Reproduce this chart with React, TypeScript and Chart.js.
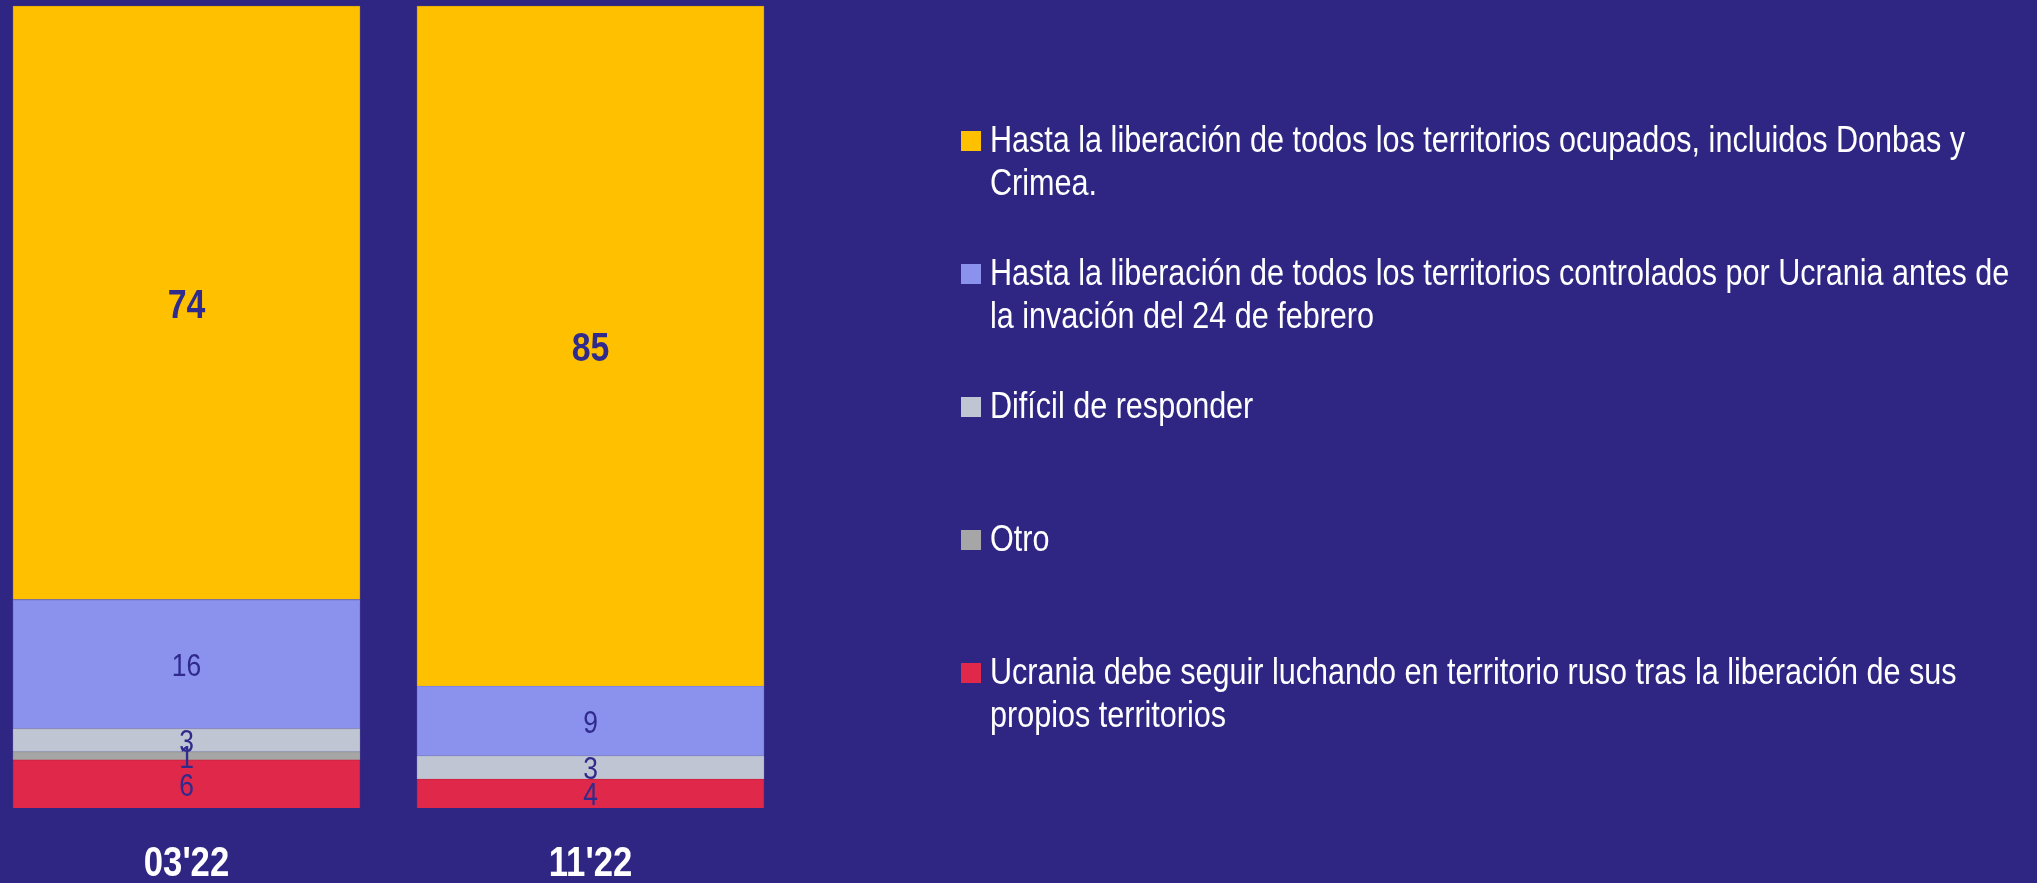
import React, { useEffect, useRef } from "react";
import { Chart, registerables } from "chart.js";

Chart.register(...registerables);

const categories = ["03'22", "11'22"];

// stacked bottom -> top
const seriesNames: string[][] = [
  ["Ucrania debe seguir luchando en territorio ruso tras la liberación de sus", "propios territorios"],
  ["Otro"],
  ["Difícil de responder"],
  ["Hasta la liberación de todos los territorios controlados por Ucrania antes de", "la invación del 24 de febrero"],
  ["Hasta la liberación de todos los territorios ocupados, incluidos Donbas y", "Crimea."],
];
const redValues = [6.0, 3.6];
const otroValues = [1.0, 0];
const dificilValues = [2.9, 2.9];
const blueValues = [16.1, 8.7];
const yellowValues = [74.0, 84.8];

const seriesColors = ["#E0294A", "#A6A6A6", "#BFC5D2", "#8A92EE", "#FFC000"];
const seriesBorders = ["#C8223F", "#9A9A9A", "#AEB4C6", "#7A82DD", "#E0A800"];

const BG = "#2F2683";
const LABEL_COLOR = "#2F2A8C";
const FONT = '"Liberation Sans", Arial, sans-serif';
const NARROW = 0.826;

const W = 2037;
const H = 883;

function narrowText(ctx: CanvasRenderingContext2D, text: string, x: number, y: number) {
  ctx.save();
  ctx.translate(x, y);
  ctx.scale(NARROW, 1);
  ctx.fillText(text, 0, 0);
  ctx.restore();
}

export default function App() {
  const ref = useRef<HTMLCanvasElement | null>(null);

  useEffect(() => {
    const canvas = ref.current;
    if (!canvas) return;
    const values = [redValues, otroValues, dificilValues, blueValues, yellowValues];

    const labelsPlugin = {
      id: "segLabels",
      afterDatasetsDraw(chart: any) {
        const ctx = chart.ctx;
        ctx.save();
        ctx.textAlign = "center";
        ctx.textBaseline = "alphabetic";
        ctx.fillStyle = LABEL_COLOR;
        chart.data.datasets.forEach((ds: any, di: number) => {
          const meta = chart.getDatasetMeta(di);
          const isTop = di === chart.data.datasets.length - 1;
          const size = isTop ? 41 : 32;
          ctx.font = `${isTop ? "bold " : ""}${size}px ${FONT}`;
          meta.data.forEach((bar: any, i: number) => {
            const v = ds.data[i];
            if (!v) return;
            const cy = (bar.y + bar.base) / 2;
            narrowText(ctx, String(Math.round(v)), bar.x, cy + size * 0.37);
          });
        });
        ctx.restore();
      },
      afterDraw(chart: any) {
        const ctx = chart.ctx;
        ctx.save();
        // category labels
        const xs = chart.scales.x;
        ctx.fillStyle = "#FFFFFF";
        ctx.textAlign = "center";
        ctx.textBaseline = "alphabetic";
        ctx.font = `bold 42px ${FONT}`;
        chart.data.labels.forEach((lab: string, i: number) => {
          narrowText(ctx, lab, xs.getPixelForTick(i), 876);
        });
        // legend (top of stack first)
        ctx.textAlign = "left";
        ctx.font = `37px ${FONT}`;
        const n = chart.data.datasets.length;
        for (let k = 0; k < n; k++) {
          const ds = chart.data.datasets[n - 1 - k];
          const base = 152 + k * 133;
          ctx.fillStyle = ds.backgroundColor;
          ctx.fillRect(961, base - 21, 20, 20);
          ctx.fillStyle = "#FFFFFF";
          (ds.labelLines as string[]).forEach((line: string, li: number) => {
            narrowText(ctx, line, 990, base + li * 43);
          });
        }
        ctx.restore();
      },
    };

    const chart = new Chart(canvas, {
      type: "bar",
      data: {
        labels: categories,
        datasets: values.map((vals, i) => ({
          label: seriesNames[i].join(" "),
          labelLines: seriesNames[i],
          data: vals,
          backgroundColor: seriesColors[i],
          borderColor: seriesBorders[i],
          borderWidth: 1,
          barThickness: 347,
          clip: false,
        })) as any,
      },
      options: {
        responsive: false,
        animation: false,
        layout: { padding: { left: 186.5, right: W - 590.5, top: 6, bottom: H - 808 } },
        plugins: { legend: { display: false }, tooltip: { enabled: false } },
        scales: {
          x: { stacked: true, offset: false, display: false },
          y: { stacked: true, min: 0, max: 100, display: false },
        },
      },
      plugins: [labelsPlugin],
    });
    return () => chart.destroy();
  }, []);

  return (
    <div style={{ position: "fixed", left: 0, top: 0, width: W, height: H, background: BG }}>
      <canvas ref={ref} width={W} height={H} style={{ display: "block", width: W, height: H }} />
    </div>
  );
}
